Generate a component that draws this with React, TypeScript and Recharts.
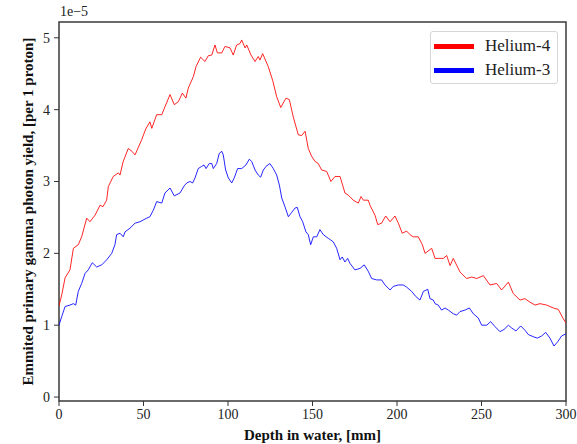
import React from 'react';
import { LineChart, Line, XAxis, YAxis, Label, Legend, ReferenceArea } from 'recharts';

// depth in water [mm] and yield in units of 1e-5
const heliumFourDepth = [
  0, 1.6, 3.6, 6.5, 8.5, 11.4, 13.4, 16.4, 18.3, 21.3, 24.3, 26.0, 28.2, 29.2, 32.1, 35.1, 36.1, 38.0,
  41.0, 43.2, 45.0, 48.9, 51.3, 53.8, 54.9, 57.8, 60.8, 62.7, 65.7, 68.2, 70.6, 73.0, 75.1, 76.5, 79.5,
  81.1, 83.8, 86.4, 88.3, 90.4, 92.3, 93.7, 96.3, 98.2, 101.2, 103.1, 105.1, 107.1, 108.1, 110.1, 111.1,
  113.6, 116.0, 117.9, 118.9, 120.5, 123.8, 126.4, 128.8, 131.2, 134.3, 136.3, 138.6, 141.6, 143.6, 145.6,
  147.5, 149.5, 151.5, 153.4, 155.4, 158.4, 160.9, 163.3, 166.3, 169.2, 171.2, 174.1, 177.1, 178.7, 180.1,
  183.0, 184.0, 187.0, 188.6, 190.9, 193.3, 195.9, 198.8, 200.8, 203.1, 205.7, 207.7, 209.6, 212.6, 215.0,
  216.6, 220.5, 222.5, 227.4, 229.4, 231.4, 233.3, 237.3, 241.2, 244.2, 247.2, 251.1, 255.0, 259.0, 261.9,
  265.9, 268.8, 272.8, 275.7, 278.7, 281.7, 284.6, 288.6, 292.5, 295.4, 298.4, 300,
];
const heliumFourYield = [
  1.27, 1.42, 1.66, 1.77, 2.07, 2.12, 2.23, 2.49, 2.44, 2.53, 2.67, 2.65, 2.74, 2.93, 3.07, 3.12, 3.09, 3.28,
  3.46, 3.42, 3.37, 3.58, 3.73, 3.83, 3.74, 3.93, 3.93, 4.04, 4.21, 4.07, 4.11, 4.23, 4.16, 4.30, 4.46,
  4.60, 4.73, 4.67, 4.75, 4.76, 4.90, 4.79, 4.79, 4.88, 4.86, 4.76, 4.90, 4.92, 4.97, 4.86, 4.90,
  4.76, 4.67, 4.74, 4.69, 4.78, 4.60, 4.41, 4.18, 4.03, 4.16, 4.14, 3.90, 3.65, 3.64, 3.70,
  3.46, 3.35, 3.28, 3.25, 3.16, 3.14, 3.00, 3.07, 3.07, 2.84, 2.81, 2.74, 2.70, 2.79, 2.74,
  2.74, 2.67, 2.53, 2.40, 2.42, 2.52, 2.44, 2.52, 2.42, 2.28, 2.31, 2.26, 2.23, 2.23, 2.12,
  2.00, 2.07, 1.93, 1.93, 1.97, 1.83, 1.93, 1.74, 1.65, 1.67, 1.65, 1.69, 1.56, 1.58, 1.49,
  1.60, 1.44, 1.35, 1.37, 1.32, 1.28, 1.30, 1.28, 1.24, 1.22, 1.09, 1.03,
];

const heliumThreeDepth = [
  0, 1.6, 3.6, 6.5, 8.5, 9.9, 11.4, 13.4, 15.4, 17.3, 19.7, 22.3, 25.3, 28.2, 31.2, 33.1, 34.1, 36.1, 38.0,
  39.1, 42.0, 45.0, 47.9, 51.9, 53.8, 55.8, 57.8, 60.8, 62.7, 65.7, 68.2, 71.6, 74.1, 75.6, 77.5, 79.1,
  80.5, 82.4, 84.4, 85.8, 87.0, 88.9, 90.4, 91.3, 93.3, 94.8, 96.3, 97.2, 98.6, 100.2, 102.2, 103.7, 105.7,
  108.1, 110.6, 112.6, 114.0, 116.0, 117.9, 119.3, 120.9, 122.5, 124.8, 126.8, 128.8, 130.4, 131.8, 133.7,
  135.7, 137.7, 139.6, 141.0, 142.6, 144.2, 146.1, 147.5, 148.9, 150.5, 152.5, 154.4, 156.4, 159.3, 162.3,
  164.3, 166.3, 167.6, 169.2, 170.8, 172.2, 175.1, 178.1, 180.6, 183.0, 185.0, 188.0, 190.9, 192.9, 195.9,
  197.8, 200.8, 203.7, 205.7, 208.7, 211.1, 213.6, 215.6, 218.2, 219.5, 221.5, 222.5, 224.4, 226.4, 228.4,
  230.4, 233.3, 235.3, 237.3, 240.2, 242.8, 245.1, 248.1, 250.1, 253.1, 255.4, 258.0, 260.9, 263.3, 265.9,
  267.9, 270.4, 273.2, 275.7, 277.7, 280.6, 283.0, 285.6, 288.0, 290.5, 292.9, 295.1, 297.4, 300,
];
const heliumThreeYield = [
  1.00, 1.12, 1.26, 1.28, 1.30, 1.28, 1.47, 1.58, 1.72, 1.77, 1.87, 1.81, 1.84, 1.91, 2.00, 2.12, 2.26, 2.28, 2.23,
  2.30, 2.35, 2.42, 2.44, 2.49, 2.51, 2.60, 2.72, 2.70, 2.84, 2.91, 2.80, 2.84, 2.94, 2.98, 3.00, 2.98,
  3.05, 3.18, 3.21, 3.23, 3.18, 3.25, 3.25, 3.18, 3.25, 3.39, 3.42, 3.37, 3.16, 3.05, 2.98, 3.05, 3.18,
  3.18, 3.23, 3.31, 3.28, 3.16, 3.09, 3.06, 3.16, 3.21, 3.25, 3.18, 3.09, 2.95, 2.77, 2.65,
  2.51, 2.57, 2.63, 2.64, 2.51, 2.44, 2.30, 2.26, 2.12, 2.23, 2.23, 2.33, 2.26, 2.21, 2.16,
  2.07, 1.91, 1.95, 1.88, 1.93, 1.86, 1.77, 1.79, 1.84, 1.75, 1.65, 1.63, 1.63, 1.56, 1.49,
  1.54, 1.56, 1.56, 1.53, 1.47, 1.40, 1.35, 1.47, 1.50, 1.37, 1.35, 1.30, 1.28, 1.21, 1.24,
  1.21, 1.16, 1.14, 1.19, 1.21, 1.24, 1.16, 1.10, 1.00, 1.00, 1.05, 0.98, 0.91, 0.94, 1.00,
  0.96, 0.92, 0.99, 0.93, 0.87, 0.84, 0.82, 0.85, 0.90, 0.82, 0.71, 0.77, 0.85, 0.88,
];

const xTicks = [0, 50, 100, 150, 200, 250, 300];
const yTicks = [0, 1, 2, 3, 4, 5];

const seriesNames = ['Helium-4', 'Helium-3'];
const seriesColors = ['#ff0000', '#0000ff'];

const FONT = '"Liberation Serif", "Times New Roman", serif';
const X_MIN = 0;
const X_MAX = 300;
const Y_MIN = -0.055;
const Y_MAX = 5.22;

const heliumFourRows = heliumFourDepth.map((d, i) => ({ depth: d, value: heliumFourYield[i] }));
const heliumThreeRows = heliumThreeDepth.map((d, i) => ({ depth: d, value: heliumThreeYield[i] }));

const LegendBox = () => (
  <div
    style={{
      width: 126,
      height: 51,
      border: '1px solid #d6d6d6',
      borderRadius: 3,
      background: 'rgba(255,255,255,0.8)',
      fontFamily: FONT,
      fontSize: 17,
      color: '#222',
      boxSizing: 'content-box',
    }}
  >
    {seriesNames.map((name, i) => (
      <div key={name} style={{ display: 'flex', alignItems: 'center', height: 24, marginTop: i === 0 ? 2 : 0 }}>
        <span style={{ display: 'inline-block', width: 40, height: 5, background: seriesColors[i], marginLeft: 3 }} />
        <span style={{ marginLeft: 11, lineHeight: '24px' }}>{name}</span>
      </div>
    ))}
  </div>
);

const App: React.FC = () => {
  return (
    <div style={{ position: 'absolute', left: 0, top: 0, width: 577, height: 444, background: '#fff' }}>
      <div style={{ position: 'absolute', left: 60, top: 4, fontFamily: FONT, fontSize: 14, color: '#222' }}>
        1e−5
      </div>
      <LineChart width={577} height={444} margin={{ top: 22, right: 11, bottom: 0, left: 0 }}>
        <XAxis
          dataKey="depth"
          type="number"
          domain={[X_MIN, X_MAX]}
          ticks={xTicks}
          allowDataOverflow
          height={43}
          axisLine={false}
          tickSize={5}
          tickMargin={3}
          tickLine={{ stroke: '#333' }}
          tick={{ fill: '#222', fontSize: 14, fontFamily: FONT }}
        >
          <Label
            value="Depth in water, [mm]"
            position="insideBottom"
            offset={4}
            style={{ fontFamily: FONT, fontSize: 15, fontWeight: 'bold', fill: '#111' }}
          />
        </XAxis>
        <YAxis
          type="number"
          domain={[Y_MIN, Y_MAX]}
          ticks={yTicks}
          allowDataOverflow
          width={59}
          axisLine={false}
          tickSize={5}
          tickMargin={4}
          tickLine={{ stroke: '#333' }}
          tick={{ fill: '#222', fontSize: 14, fontFamily: FONT }}
        >
          <Label
            value="Emmited primary gamma photon yield, [per 1 proton]"
            angle={-90}
            position="center"
            dx={-2}
            style={{ fontFamily: FONT, fontSize: 15, fontWeight: 'bold', fill: '#111', textAnchor: 'middle' }}
          />
        </YAxis>
        <ReferenceArea
          x1={X_MIN}
          x2={X_MAX}
          y1={Y_MIN}
          y2={Y_MAX}
          fill="none"
          stroke="#3a3a3a"
          strokeWidth={1.5}
          ifOverflow="visible"
        />
        <Line
          data={heliumFourRows}
          dataKey="value"
          name={seriesNames[0]}
          type="linear"
          stroke={seriesColors[0]}
          strokeWidth={1}
          strokeOpacity={0.85}
          dot={false}
          activeDot={false}
          isAnimationActive={false}
        />
        <Line
          data={heliumThreeRows}
          dataKey="value"
          name={seriesNames[1]}
          type="linear"
          stroke={seriesColors[1]}
          strokeWidth={1}
          strokeOpacity={0.85}
          dot={false}
          activeDot={false}
          isAnimationActive={false}
        />
        <Legend
          layout="vertical"
          align="center"
          verticalAlign="middle"
          content={() => <LegendBox />}
          wrapperStyle={{ left: 430, top: 31, width: 'auto' }}
        />
      </LineChart>
    </div>
  );
};

export default App;
